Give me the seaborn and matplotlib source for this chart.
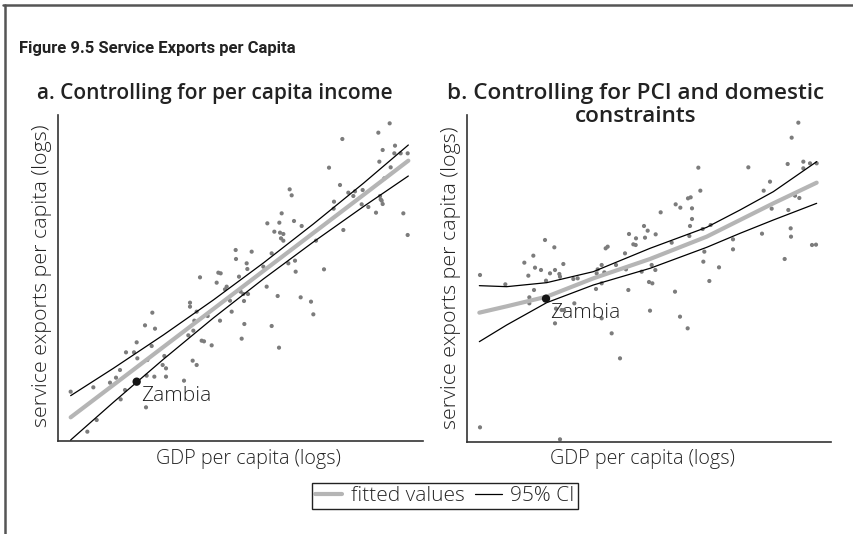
import matplotlib
matplotlib.use("Agg")
import matplotlib.pyplot as plt
import seaborn as sns
from matplotlib.lines import Line2D

# ---------------- data ----------------
# Panel a: controlling for per capita income
a_gdp = [1.22, 1.72, 1.90, 2.00, 2.40, 2.58, 2.70, 2.72, 2.85, 2.88, 3.12, 3.20, 3.22, 3.45,
         3.48, 3.50, 3.52, 3.65, 3.67, 3.75, 3.73, 3.98, 4.03, 4.08, 4.08, 4.62, 4.75, 4.80,
         4.80, 4.88, 4.90, 4.93, 5.00, 5.00, 5.10, 5.15, 5.22, 5.33, 5.45, 5.60, 5.65, 5.72,
         5.70, 5.85, 5.90, 6.00, 6.05, 6.17, 6.18, 6.27, 6.32, 6.35, 6.40, 6.42, 6.43, 6.50,
         6.52, 6.54, 6.65, 7.00, 7.10, 7.12, 7.25, 7.25, 7.33, 7.43, 7.47, 7.48, 7.50, 7.53,
         7.55, 7.60, 7.60, 7.75, 7.79, 7.85, 7.92, 7.95, 7.97, 8.12, 8.15, 8.43, 8.50, 8.58,
         8.82, 8.97, 9.12, 9.11, 9.30, 9.37, 9.40, 9.55, 9.70, 9.75, 9.95, 9.98, 10.15, 10.38,
         10.45, 10.48, 10.50, 10.52, 10.55, 10.58, 10.58, 10.63, 10.79, 10.82, 10.93, 10.95,
         11.12, 11.20, 11.33, 11.33]
a_exp = [1.55, 0.35, 1.68, 0.70, 1.82, 1.97, 2.20, 1.32, 1.60, 2.73, 2.73, 3.03, 2.55, 3.54,
         1.08, 2.03, 2.50, 2.92, 3.92, 3.44, 2.00, 2.35, 2.62, 2.25, 2.00, 1.88, 3.24, 4.22,
         4.10, 2.48, 3.38, 3.68, 3.95, 2.35, 4.98, 3.08, 3.06, 3.82, 2.94, 4.82, 5.12, 5.10,
         3.68, 4.62, 4.70, 4.28, 3.95, 5.80, 5.53, 5.00, 4.55, 3.14, 4.48, 4.27, 3.58, 5.40,
         5.23, 4.48, 5.75, 5.30, 4.70, 6.60, 5.70, 3.52, 6.35, 4.42, 2.87, 6.62, 6.32, 6.15,
         6.90, 6.28, 6.08, 5.40, 7.62, 7.44, 6.67, 5.48, 5.15, 4.38, 6.52, 4.25, 3.87, 6.08,
         5.22, 8.27, 7.25, 7.04, 7.75, 9.13, 6.40, 7.52, 7.42, 7.56, 7.17, 7.60, 7.09, 6.92,
         9.32, 8.45, 7.42, 7.32, 7.28, 7.18, 8.80, 7.95, 9.60, 8.28, 8.70, 8.93,
         8.70, 6.90, 8.70, 6.25]
a_fit_x = [1.22, 2.50, 4.00, 5.50, 7.00, 8.50, 10.00, 11.35]
a_fit = [0.78, 1.75, 2.89, 4.03, 5.17, 6.31, 7.45, 8.48]
a_ci_hi = [1.43, 2.25, 3.25, 4.30, 5.41, 6.58, 7.80, 8.95]
a_ci_lo = [0.10, 1.23, 2.52, 3.76, 4.93, 6.04, 7.10, 8.02]
a_zambia = (3.20, 1.85)

# Panel b: controlling for PCI and domestic constraints
b_gdp = [1.20, 1.20, 1.96, 2.53, 2.65, 2.68, 2.68, 2.80, 2.82, 2.85, 3.03, 3.15, 3.18, 3.30,
         3.43, 3.45, 3.45, 3.48, 3.58, 3.60, 3.60, 3.65, 3.70, 3.72, 4.00, 4.03, 4.13, 4.68,
         4.70, 4.73, 4.85, 4.85, 4.85, 4.93, 4.97, 5.03, 5.15, 5.28, 5.40, 5.55, 5.58, 5.65,
         5.67, 5.80, 5.87, 5.88, 6.05, 6.12, 6.15, 6.23, 6.27, 6.30, 6.37, 6.35, 6.46, 6.47,
         6.62, 6.95, 7.05, 7.07, 7.21, 7.20, 7.44, 7.52, 7.43, 7.48, 7.50, 7.56, 7.56, 7.75,
         7.81, 7.88, 7.90, 7.93, 8.08, 8.12, 8.37, 8.79, 8.79, 9.25, 9.66, 9.71, 9.90, 9.95,
         10.34, 10.43, 10.45, 10.52, 10.53, 10.55, 10.65, 10.75, 10.78, 10.90, 10.90, 11.10,
         11.16, 11.28, 11.30]
b_exp = [5.05, 0.48, 4.77, 5.42, 5.03, 4.38, 4.20, 5.63, 4.60, 5.27, 5.20, 6.10, 4.88, 5.10,
         5.88, 5.20, 3.60, 4.04, 5.08, 5.00, 0.12, 4.00, 5.38, 4.00, 4.93, 4.20, 4.95, 4.63,
         5.10, 5.22, 5.35, 4.80, 3.75, 5.13, 5.85, 5.90, 3.30, 5.35, 2.55, 5.70, 5.22, 4.60,
         6.28, 5.97, 5.95, 6.15, 5.15, 6.52, 6.17, 6.38, 4.84, 3.98, 4.80, 5.35, 5.20, 6.27,
         6.93, 6.02, 4.55, 7.17, 7.07, 3.80, 7.35, 7.38, 3.45, 6.22, 6.52, 7.05, 6.73, 8.27,
         7.58, 6.43, 5.45, 5.75, 4.87, 6.55, 5.28, 6.12, 5.82, 8.28, 6.29, 7.58, 7.85, 7.04,
         5.53, 8.38, 7.00, 6.45, 6.20, 9.17, 7.43, 9.62, 7.36, 8.45, 8.25, 8.40,
         5.95, 5.96, 8.40]
b_fit_x = [1.18, 2.00, 3.20, 4.60, 6.30, 8.00, 9.00, 10.00, 11.30]
b_fit = [3.92, 4.11, 4.40, 4.95, 5.53, 6.20, 6.70, 7.20, 7.82]
b_ci_hi = [4.73, 4.70, 4.82, 5.15, 5.85, 6.48, 7.00, 7.55, 8.45]
b_ci_lo = [3.05, 3.55, 4.22, 4.75, 5.25, 5.88, 6.30, 6.70, 7.20]
b_zambia = (3.18, 4.34)

fig_title = "Figure 9.5 Service Exports per Capita"
panel_a_title = "a. Controlling for per capita income"
panel_b_title = ["b. Controlling for PCI and domestic", "constraints"]
x_label = "GDP per capita (logs)"
y_label = "service exports per capita (logs)"
legend_labels = ["fitted values", "95% CI"]

# ---------------- styling ----------------
sns.set_theme(style="white")
plt.rcParams['font.family'] = ['Open Sans', 'DejaVu Sans']

W, H = 854, 534
fig = plt.figure(figsize=(W / 100, H / 100), dpi=100)
fig.patch.set_facecolor("white")

ax1 = fig.add_axes([58 / W, 1 - 441 / H, (423 - 58) / W, (441 - 115) / H])
ax2 = fig.add_axes([467 / W, 1 - 442 / H, (831 - 467) / W, (442 - 115) / H])

DOT = "#7c7c7c"
FIT = "#b5b5b5"
AX = "#333333"
TXT = "#222222"


def draw_panel(ax, gx, ey, fx, fy, hi, lo, zam, xlim, ylim):
    sns.scatterplot(x=gx, y=ey, ax=ax, color=DOT, s=9, edgecolor="none",
                    linewidth=0, legend=False, zorder=2)
    sns.lineplot(x=fx, y=fy, ax=ax, color=FIT, lw=3.0, errorbar=None,
                 legend=False, zorder=3)
    sns.lineplot(x=fx, y=hi, ax=ax, color="black", lw=0.9, errorbar=None,
                 legend=False, zorder=4)
    sns.lineplot(x=fx, y=lo, ax=ax, color="black", lw=0.9, errorbar=None,
                 legend=False, zorder=4)
    sns.scatterplot(x=[zam[0]], y=[zam[1]], ax=ax, color="#151515", s=36,
                    edgecolor="none", linewidth=0, legend=False, zorder=5)
    ax.annotate("Zambia", xy=zam, xytext=(3, -3), textcoords="offset points",
                ha="left", va="top", fontsize=15, color=TXT,
                fontweight="light", zorder=6)
    ax.set_xlim(*xlim)
    ax.set_ylim(*ylim)
    ax.set_xticks([])
    ax.set_yticks([])
    ax.set_xlabel("")
    ax.set_ylabel("")
    for s in ["top", "right"]:
        ax.spines[s].set_visible(False)
    for s in ["left", "bottom"]:
        ax.spines[s].set_color(AX)
        ax.spines[s].set_linewidth(1.2)
    ax.set_facecolor("white")


draw_panel(ax1, a_gdp, a_exp, a_fit_x, a_fit, a_ci_hi, a_ci_lo, a_zambia,
           (0.84, 11.79), (0.07, 9.85))
draw_panel(ax2, b_gdp, b_exp, b_fit_x, b_fit, b_ci_hi, b_ci_lo, b_zambia,
           (0.81, 11.73), (0.04, 9.85))

fig.text(19 / W, 1 - 48 / H, fig_title, ha="left", va="center", fontsize=12,
         fontweight="bold", color=TXT, family=["Roboto", "DejaVu Sans"])
fig.text(215 / W, 1 - 93 / H, panel_a_title, ha="center", va="center",
         fontsize=15, fontweight="semibold", color=TXT)
fig.text(636 / W, 1 - 93 / H, panel_b_title[0], ha="center", va="center",
         fontsize=16.2, fontweight="semibold", color=TXT)
fig.text(636 / W, 1 - 117 / H, panel_b_title[1], ha="center", va="center",
         fontsize=16.2, fontweight="semibold", color=TXT)

for cx in (248, 642):
    fig.text(cx / W, 1 - 459 / H, x_label, ha="center", va="center",
             fontsize=14.2, fontweight="light", color=TXT)
for cx, cy in ((42, 276), (451, 278)):
    fig.text(cx / W, 1 - cy / H, y_label, ha="center", va="center",
             rotation=90, fontsize=15.4, fontweight="light", color=TXT)

handles = [Line2D([], [], color=FIT, lw=3.0), Line2D([], [], color="black", lw=0.9)]
leg = fig.legend(handles, legend_labels, loc="center",
                 bbox_to_anchor=(445 / W, 1 - 496 / H), ncol=2, frameon=True,
                 fancybox=False, edgecolor="#222222", framealpha=1,
                 handlelength=1.3, handletextpad=0.4, columnspacing=0.5,
                 borderpad=0.15, borderaxespad=0,
                 prop={"weight": "light", "size": 15})
leg.get_frame().set_linewidth(1.0)

# outer frame (top and left edges)
fig.add_artist(Line2D([3 / W, 1.0], [1 - 5 / H, 1 - 5 / H], transform=fig.transFigure,
                      color="#555555", lw=1.8))
fig.add_artist(Line2D([5 / W, 5 / W], [1 - 5 / H, 0.0], transform=fig.transFigure,
                      color="#555555", lw=1.8))

fig.savefig("out.png", dpi=100, facecolor="white")
